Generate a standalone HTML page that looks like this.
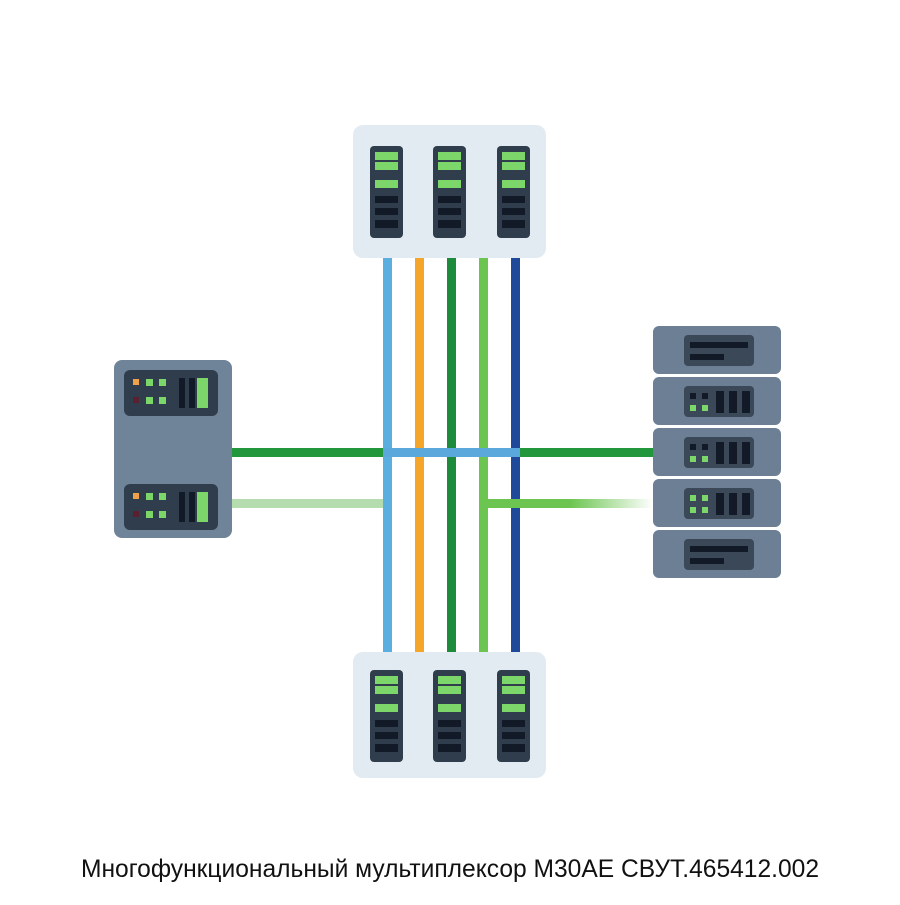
<!DOCTYPE html>
<html><head><meta charset="utf-8"><style>
body{margin:0;background:#fff;width:900px;height:900px;overflow:hidden}
</style></head><body>
<svg width="900" height="900" xmlns="http://www.w3.org/2000/svg">
<defs>
<linearGradient id="fadeR" x1="0" x2="1"><stop offset="0" stop-color="#6cc551"/><stop offset="0.5" stop-color="#6cc551"/><stop offset="1" stop-color="#6cc551" stop-opacity="0"/></linearGradient>
<g id="unit">
<rect x="0" y="0" width="33" height="92" rx="4" fill="#2f3d4d"/>
<rect x="5" y="6" width="23" height="8" fill="#7dd66a"/>
<rect x="5" y="16" width="23" height="8" fill="#7dd66a"/>
<rect x="5" y="34" width="23" height="8" fill="#7dd66a"/>
<rect x="5" y="50" width="23" height="7" fill="#111a26"/>
<rect x="5" y="62" width="23" height="7" fill="#111a26"/>
<rect x="5" y="74" width="23" height="8" fill="#111a26"/>
</g>
<g id="lp">
<rect x="0" y="0" width="94" height="46" rx="6" fill="#2f3d4d"/>
<rect x="9" y="9" width="6" height="6" fill="#f0a04a"/>
<rect x="9" y="27" width="6" height="6" fill="#5a2030"/>
<rect x="22" y="9" width="7" height="7" fill="#7dd66a"/>
<rect x="35" y="9" width="7" height="7" fill="#7dd66a"/>
<rect x="22" y="27" width="7" height="7" fill="#7dd66a"/>
<rect x="35" y="27" width="7" height="7" fill="#7dd66a"/>
<rect x="55" y="8" width="6" height="30" fill="#111a26"/>
<rect x="65" y="8" width="6" height="30" fill="#111a26"/>
<rect x="73" y="8" width="11" height="30" fill="#7dd66a"/>
</g>
<g id="rs">
<rect x="0" y="0" width="128" height="48" rx="6" fill="#6c7f94"/>
<rect x="31" y="9" width="70" height="31" rx="4" fill="#3a4858"/>
<rect x="37" y="16" width="6" height="6" fill="#111a26"/>
<rect x="49" y="16" width="6" height="6" fill="#111a26"/>
<rect x="37" y="28" width="6" height="6" fill="#7dd66a"/>
<rect x="49" y="28" width="6" height="6" fill="#7dd66a"/>
<rect x="63" y="14" width="8" height="22" fill="#111a26"/>
<rect x="76" y="14" width="8" height="22" fill="#111a26"/>
<rect x="89" y="14" width="8" height="22" fill="#111a26"/>
</g>
<g id="rd">
<rect x="0" y="0" width="128" height="48" rx="6" fill="#6c7f94"/>
<rect x="31" y="9" width="70" height="31" rx="4" fill="#3a4858"/>
<rect x="37" y="16" width="58" height="6" fill="#111a26"/>
<rect x="37" y="28" width="34" height="6" fill="#111a26"/>
</g>
</defs>
<rect x="383" y="258" width="9" height="394" fill="#5aafe0"/>
<rect x="415" y="258" width="9" height="394" fill="#f5a52a"/>
<rect x="447" y="258" width="9" height="394" fill="#1e8a3c"/>
<rect x="479" y="258" width="9" height="394" fill="#6cc551"/>
<rect x="511" y="258" width="9" height="394" fill="#1f4a9a"/>
<rect x="232" y="448" width="424" height="9" fill="#22973c"/>
<rect x="383" y="448" width="137" height="9" fill="#5aa8dc"/>
<rect x="232" y="499" width="151" height="9" fill="#b5dcae"/>
<rect x="487" y="499" width="166" height="9" fill="url(#fadeR)"/>
<rect x="353" y="125" width="193" height="133" rx="10" fill="#e2eaf2"/>
<use href="#unit" x="370" y="146"/><use href="#unit" x="433" y="146"/><use href="#unit" x="497" y="146"/>
<rect x="353" y="652" width="193" height="126" rx="10" fill="#e2eaf2"/>
<use href="#unit" x="370" y="670"/><use href="#unit" x="433" y="670"/><use href="#unit" x="497" y="670"/>
<rect x="114" y="360" width="118" height="178" rx="8" fill="#6f8399"/>
<use href="#lp" x="124" y="370"/><use href="#lp" x="124" y="484"/>
<use href="#rd" x="653" y="326"/>
<use href="#rs" x="653" y="377"/>
<use href="#rs" x="653" y="428"/>
<use href="#rs" x="653" y="479"/>
<use href="#rd" x="653" y="530"/>
<rect x="690" y="495" width="6" height="6" fill="#7dd66a"/><rect x="702" y="495" width="6" height="6" fill="#7dd66a"/>
<text x="450" y="877" text-anchor="middle" font-family="Liberation Sans, sans-serif" font-size="24.6" fill="#111">Многофункциональный мультиплексор М30АЕ СВУТ.465412.002</text>
</svg>
</body></html>
